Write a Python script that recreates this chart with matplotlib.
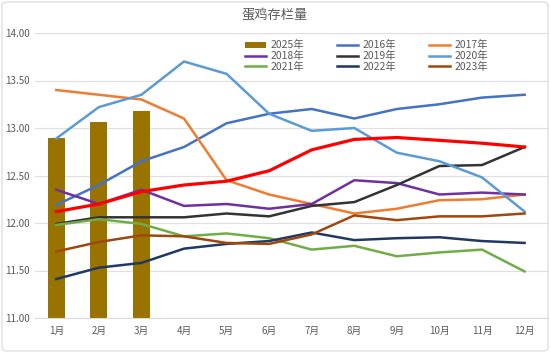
import matplotlib
matplotlib.use("Agg")
import matplotlib.pyplot as plt
from matplotlib.patches import FancyBboxPatch

plt.rcParams['font.family'] = ['Noto Sans CJK SC', 'DejaVu Sans']

months = ['1月', '2月', '3月', '4月', '5月', '6月', '7月', '8月', '9月', '10月', '11月', '12月']
bar_2025 = [12.89, 13.06, 13.18]
s2016 = [12.19, 12.40, 12.65, 12.80, 13.05, 13.15, 13.20, 13.10, 13.20, 13.25, 13.32, 13.35]
s2017 = [13.40, 13.35, 13.30, 13.10, 12.45, 12.30, 12.20, 12.10, 12.15, 12.24, 12.25, 12.30]
s2018 = [12.35, 12.20, 12.35, 12.18, 12.20, 12.15, 12.20, 12.45, 12.42, 12.30, 12.32, 12.30]
s2019 = [11.99, 12.06, 12.06, 12.06, 12.10, 12.07, 12.18, 12.22, 12.40, 12.60, 12.61, 12.80]
s2020 = [12.89, 13.22, 13.35, 13.70, 13.57, 13.15, 12.97, 13.00, 12.74, 12.65, 12.48, 12.12]
s2021 = [11.98, 12.04, 11.99, 11.86, 11.89, 11.84, 11.72, 11.76, 11.65, 11.69, 11.72, 11.49]
s2022 = [11.41, 11.53, 11.58, 11.73, 11.78, 11.81, 11.90, 11.82, 11.84, 11.85, 11.81, 11.79]
s2023 = [11.70, 11.80, 11.87, 11.86, 11.79, 11.78, 11.88, 12.08, 12.03, 12.07, 12.07, 12.10]
s2024 = [12.12, 12.20, 12.33, 12.40, 12.44, 12.55, 12.77, 12.88, 12.90, 12.87, 12.84, 12.80]
yticks = [11.00, 11.50, 12.00, 12.50, 13.00, 13.50, 14.00]

fig = plt.figure(figsize=(5.5, 3.53), dpi=100)
ax = fig.add_axes([35/550, 1-318/353, (548-35)/550, (318-33)/353])

x = list(range(len(months)))
lw = 1.8
bars = ax.bar(x[:len(bar_2025)], bar_2025, width=0.4, color='#997300', zorder=2, label='2025年')
l16, = ax.plot(x, s2016, color='#4472C4', lw=lw, zorder=3)
l17, = ax.plot(x, s2017, color='#ED7D31', lw=lw, zorder=3)
l18, = ax.plot(x, s2018, color='#7030A0', lw=lw, zorder=3)
l19, = ax.plot(x, s2019, color='#333333', lw=lw, zorder=3)
l20, = ax.plot(x, s2020, color='#5B9BD5', lw=lw, zorder=3)
l21, = ax.plot(x, s2021, color='#70AD47', lw=lw, zorder=3)
l22, = ax.plot(x, s2022, color='#203864', lw=lw, zorder=3)
l23, = ax.plot(x, s2023, color='#9E480E', lw=lw, zorder=3)
l24, = ax.plot(x, s2024, color='#FF0000', lw=2.3, zorder=4)

ax.set_ylim(11.0, 14.0)
ax.set_xlim(-0.5, len(months) - 0.5 + 0.05)
ax.set_yticks(yticks)
ax.set_yticklabels([f'{v:.2f}' for v in yticks])
ax.set_xticks(x)
ax.set_xticklabels(months)
ax.tick_params(axis='both', length=0, labelsize=7, colors='#595959')
ax.tick_params(axis='x', pad=6)
ax.tick_params(axis='y', pad=4)
ax.grid(axis='y', color='#E0E0E0', lw=0.9, zorder=0)
for s in ['top', 'right', 'left']:
    ax.spines[s].set_visible(False)
ax.spines['bottom'].set_color('#D9D9D9')

handles = [bars, l18, l21, l16, l19, l22, l17, l20, l23]
labels = ['2025年', '2018年', '2021年', '2016年', '2019年', '2022年', '2017年', '2020年', '2023年']
leg = ax.legend(handles, labels, ncol=3, loc='upper left', bbox_to_anchor=(0.395, 1.0),
                frameon=False, fontsize=7.5, labelcolor='#595959', handlelength=2.0,
                handleheight=0.5, columnspacing=3.1, labelspacing=0.05, handletextpad=0.5,
                borderpad=0.2)

fig.text(0.5, 1-16/353, '蛋鸡存栏量', ha='center', va='center', fontsize=9.5, color='#595959')

border = FancyBboxPatch((2/550, 2/353), 546/550, 349/353, boxstyle='round,pad=0,rounding_size=0.01',
                        transform=fig.transFigure, fill=False, ec='#D9D9D9', lw=0.8)
fig.patches.append(border)

fig.savefig('out.png', dpi=100)
